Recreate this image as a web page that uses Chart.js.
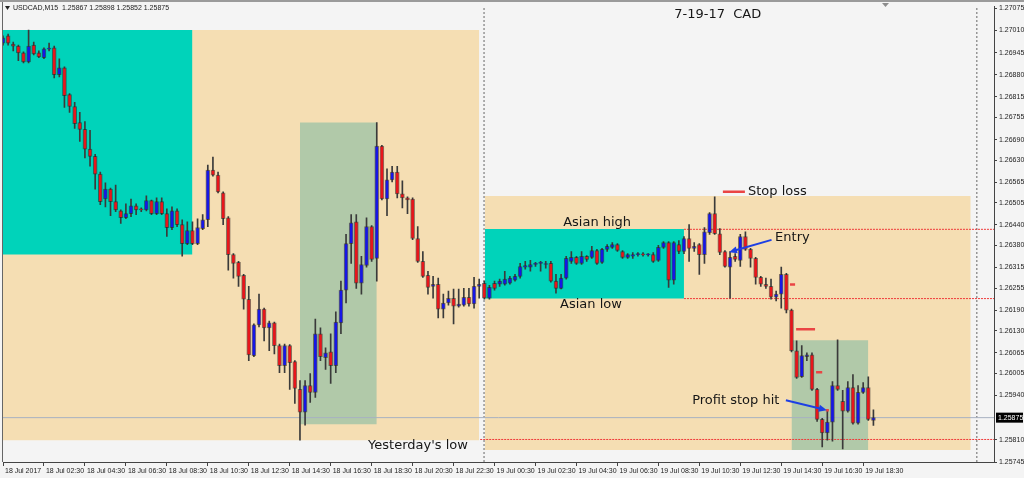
<!DOCTYPE html>
<html>
<head>
<meta charset="utf-8">
<script src="https://cdn.jsdelivr.net/npm/chart.js@4.4.1/dist/chart.umd.min.js"></script>
<style>
html,body{margin:0;padding:0;background:#f4f4f4;}
</style>
</head>
<body>
<canvas id="c" width="1024" height="478"></canvas>
<script>

// USDCAD M15, bar 0 = 18 Jul 00:30
const candleOpen = [
1.26973,1.26994,1.26970,1.26964,1.26944,1.26918,1.26967,1.26944,1.26930,1.26955,
1.26959,1.26880,1.26900,1.26822,1.26787,1.26740,1.26720,1.26662,1.26641,1.26589,
1.26516,1.26545,1.26508,1.26481,1.26461,1.26473,1.26496,1.26485,1.26484,1.26511,
1.26473,1.26508,1.26473,1.26432,1.26481,1.26441,1.26385,1.26423,1.26385,1.26429,
1.26455,1.26601,1.26586,1.26534,1.26461,1.26353,1.26330,1.26292,1.26222,1.26057,
1.26147,1.26193,1.26138,1.26153,1.26086,1.26027,1.26086,1.26039,1.25958,1.25891,
1.25969,1.25949,1.26121,1.26051,1.26068,1.26027,1.26153,1.26249,1.26385,1.26449,
1.26269,1.26321,1.26435,1.26342,1.26671,1.26516,1.26572,1.26595,1.26531,1.26519,
1.26516,1.26400,1.26333,1.26292,1.26260,1.26266,1.26193,1.26211,1.26225,1.26202,
1.26205,1.26228,1.26208,1.26260,1.26269,1.26225,1.26269,1.26266,1.26266,1.26269,
1.26278,1.26289,1.26316,1.26316,1.26324,1.26327,1.26324,1.26327,1.26275,1.26254,
1.26284,1.26333,1.26345,1.26327,1.26348,1.26345,1.26365,1.26330,1.26368,1.26374,
1.26382,1.26362,1.26345,1.26348,1.26353,1.26353,1.26352,1.26353,1.26336,1.26374,
1.26388,1.26278,1.26382,1.26362,1.26400,1.26371,1.26382,1.26353,1.26417,1.26473,
1.26414,1.26362,1.26316,1.26348,1.26336,1.26406,1.26368,1.26342,1.26286,1.26266,
1.26260,1.26228,1.26237,1.26295,1.26190,1.26071,1.25995,1.26054,1.26059,1.25958,
1.25870,1.25830,1.25862,1.25969,1.25923,1.25894,1.25963,1.25859,1.25949,1.25963,
1.25867];

const candleHigh = [
1.26994,1.26999,1.26976,1.26967,1.26947,1.27011,1.26976,1.26950,1.26959,1.26973,
1.26964,1.26927,1.26903,1.26825,1.26799,1.26770,1.26743,1.26717,1.26647,1.26595,
1.26563,1.26548,1.26557,1.26484,1.26502,1.26516,1.26502,1.26490,1.26525,1.26513,
1.26519,1.26519,1.26487,1.26493,1.26487,1.26455,1.26449,1.26449,1.26458,1.26470,
1.26615,1.26639,1.26595,1.26537,1.26464,1.26356,1.26333,1.26295,1.26260,1.26150,
1.26237,1.26196,1.26158,1.26155,1.26091,1.26091,1.26089,1.26042,1.25984,1.25984,
1.26004,1.26164,1.26138,1.26080,1.26121,1.26185,1.26275,1.26412,1.26470,1.26470,
1.26348,1.26461,1.26438,1.26740,1.26673,1.26604,1.26612,1.26612,1.26569,1.26522,
1.26519,1.26435,1.26362,1.26304,1.26289,1.26284,1.26237,1.26246,1.26252,1.26252,
1.26254,1.26254,1.26286,1.26281,1.26275,1.26263,1.26275,1.26281,1.26304,1.26289,
1.26295,1.26327,1.26333,1.26336,1.26330,1.26333,1.26333,1.26333,1.26295,1.26295,
1.26348,1.26362,1.26348,1.26362,1.26350,1.26377,1.26368,1.26371,1.26382,1.26388,
1.26385,1.26365,1.26356,1.26359,1.26359,1.26359,1.26356,1.26359,1.26380,1.26391,
1.26391,1.26391,1.26394,1.26406,1.26441,1.26388,1.26385,1.26432,1.26476,1.26522,
1.26429,1.26365,1.26362,1.26356,1.26412,1.26420,1.26371,1.26345,1.26289,1.26284,
1.26281,1.26246,1.26316,1.26298,1.26193,1.26100,1.26086,1.26065,1.26065,1.25961,
1.25873,1.25897,1.25981,1.26103,1.25955,1.25981,1.26001,1.25969,1.25978,1.25995,
1.25898];

const candleLow = [
1.26967,1.26967,1.26950,1.26921,1.26915,1.26915,1.26938,1.26930,1.26927,1.26950,
1.26871,1.26874,1.26784,1.26770,1.26723,1.26685,1.26636,1.26612,1.26545,1.26499,
1.26493,1.26467,1.26479,1.26444,1.26458,1.26464,1.26470,1.26479,1.26481,1.26470,
1.26470,1.26470,1.26406,1.26426,1.26435,1.26348,1.26382,1.26382,1.26382,1.26426,
1.26435,1.26583,1.26534,1.26441,1.26307,1.26284,1.26260,1.26193,1.26042,1.26054,
1.26141,1.26100,1.26071,1.26062,1.26007,1.26007,1.25958,1.25917,1.25809,1.25853,
1.25920,1.25934,1.26042,1.26016,1.25975,1.26007,1.26121,1.26211,1.26327,1.26254,
1.26237,1.26316,1.26333,1.26275,1.26513,1.26467,1.26566,1.26519,1.26490,1.26473,
1.26397,1.26330,1.26286,1.26237,1.26225,1.26167,1.26167,1.26205,1.26150,1.26199,
1.26202,1.26202,1.26196,1.26225,1.26222,1.26222,1.26249,1.26260,1.26263,1.26266,
1.26275,1.26284,1.26310,1.26304,1.26318,1.26304,1.26313,1.26272,1.26240,1.26252,
1.26281,1.26327,1.26324,1.26324,1.26333,1.26342,1.26324,1.26327,1.26362,1.26371,
1.26362,1.26342,1.26342,1.26342,1.26348,1.26348,1.26348,1.26330,1.26333,1.26371,
1.26257,1.26266,1.26356,1.26356,1.26333,1.26362,1.26295,1.26327,1.26412,1.26412,
1.26353,1.26316,1.26225,1.26333,1.26318,1.26365,1.26316,1.26266,1.26260,1.26254,
1.26222,1.26217,1.26196,1.26182,1.26068,1.25990,1.25993,1.26042,1.25955,1.25864,
1.25789,1.25809,1.25806,1.25955,1.25783,1.25891,1.25856,1.25856,1.25946,1.25867,
1.25852];

const candleClose = [
1.26988,1.26973,1.26964,1.26944,1.26918,1.26964,1.26941,1.26932,1.26956,1.26957,
1.26880,1.26900,1.26819,1.26787,1.26737,1.26720,1.26662,1.26641,1.26589,1.26508,
1.26545,1.26508,1.26484,1.26461,1.26473,1.26496,1.26484,1.26484,1.26511,1.26473,
1.26508,1.26473,1.26432,1.26481,1.26441,1.26385,1.26423,1.26385,1.26432,1.26455,
1.26601,1.26586,1.26537,1.26458,1.26353,1.26327,1.26289,1.26222,1.26059,1.26147,
1.26193,1.26138,1.26153,1.26086,1.26027,1.26086,1.26036,1.25961,1.25891,1.25969,
1.25949,1.26121,1.26054,1.26065,1.26027,1.26155,1.26249,1.26385,1.26446,1.26269,
1.26324,1.26435,1.26339,1.26671,1.26516,1.26572,1.26595,1.26531,1.26519,1.26513,
1.26400,1.26333,1.26289,1.26257,1.26266,1.26193,1.26211,1.26225,1.26202,1.26208,
1.26228,1.26208,1.26260,1.26266,1.26225,1.26257,1.26254,1.26275,1.26281,1.26284,
1.26289,1.26318,1.26321,1.26324,1.26327,1.26328,1.26325,1.26275,1.26254,1.26284,
1.26342,1.26345,1.26327,1.26348,1.26339,1.26365,1.26327,1.26368,1.26377,1.26382,
1.26365,1.26345,1.26353,1.26353,1.26354,1.26352,1.26353,1.26333,1.26374,1.26388,
1.26278,1.26388,1.26362,1.26400,1.26371,1.26377,1.26353,1.26420,1.26473,1.26414,
1.26359,1.26318,1.26345,1.26339,1.26406,1.26368,1.26342,1.26286,1.26266,1.26260,
1.26228,1.26237,1.26295,1.26190,1.26071,1.25993,1.26057,1.26059,1.25958,1.25870,
1.25830,1.25862,1.25969,1.25958,1.25894,1.25963,1.25859,1.25949,1.25963,1.25870,
1.25875];

const timeTicks = [0,8,16,24,32,40,48,56,64,72,80,88,96,104,112,120,128,136,144,152,160,168];
const timeLabels = ["18 Jul 2017","18 Jul 02:30","18 Jul 04:30","18 Jul 06:30","18 Jul 08:30","18 Jul 10:30",
"18 Jul 12:30","18 Jul 14:30","18 Jul 16:30","18 Jul 18:30","18 Jul 20:30","18 Jul 22:30",
"19 Jul 00:30","19 Jul 02:30","19 Jul 04:30","19 Jul 06:30","19 Jul 08:30","19 Jul 10:30",
"19 Jul 12:30","19 Jul 14:30","19 Jul 16:30","19 Jul 18:30"];

const priceTicks = [1.27075,1.27010,1.26945,1.26880,1.26815,1.26755,1.26690,1.26630,1.26565,1.26505,1.26440,
1.26380,1.26315,1.26255,1.26190,1.26130,1.26065,1.26005,1.25940,1.25810,1.25745];

const lastPrice = 1.25875;
const daySplits = [93.95, 190.2];

// boxes: [fromBar, toBar, top, bottom]
const sessionBoxes = [[-2,93.0,1.27011,1.25809],[94.1,189.0,1.26525,1.25780]];
const asiaBoxes = [[-2,37.0,1.27011,1.26353],[94.1,133.0,1.26428,1.26224]];
const moveBoxes = [[58.0,73.0,1.26740,1.25856],[154.0,169.0,1.26102,1.25780]];

// red dotted levels: [fromBar, price]
const levels = [[133.0,1.26427],[133.0,1.26224],[93.2,1.25811]];
// short red stop marks: [fromBar, toBar, price]
const stopMarks = [[140.6,144.9,1.26537],[153.7,154.7,1.26265],[154.9,158.6,1.26134],[158.8,160.0,1.26008],[160.7,161.3,1.25897]];
// arrows: [fromBar, fromPrice, toBar, toPrice]
const arrows = [[150.1,1.26396,141.8,1.26360],[152.9,1.25926,160.9,1.25897]];

const notes = [
  {text:"7-19-17  CAD", x:139.6, y:1.27057, align:"center"},
  {text:"Stop loss", x:145.5, y:1.26537, align:"left"},
  {text:"Asian high", x:109.4, y:1.26446, align:"left"},
  {text:"Entry", x:150.8, y:1.26403, align:"left"},
  {text:"Asian low", x:108.8, y:1.26205, align:"left"},
  {text:"Profit stop hit", x:134.6, y:1.25926, align:"left"},
  {text:"Yesterday's low", x:71.3, y:1.25792, align:"left"}
];

const RED = "#e8151b";
const BLUE = "#1616e6";
const Y_MIN = 1.25745, Y_MAX = 1.27081, X_MAX = 193.55;

const bars = candleOpen.map((_, i) => i);

function box(r, color, order){
  return {type:"line", data:[{x:r[0],y:r[2]},{x:r[1],y:r[2]}], fill:{value:r[3]},
    backgroundColor:color, borderColor:"rgba(0,0,0,0)", borderWidth:0, pointRadius:0, order:order};
}
function hline(x0, x1, p, color, width, dash, order){
  return {type:"line", data:[{x:x0,y:p},{x:x1,y:p}], borderColor:color, borderWidth:width,
    borderDash:dash, pointRadius:0, fill:false, order:order};
}

const datasets = [];
sessionBoxes.forEach(r => datasets.push(box(r, "#f5deb3", 30)));
asiaBoxes.forEach(r => datasets.push(box(r, "#00d3ba", 29)));
moveBoxes.forEach(r => datasets.push(box(r, "#b1c9a9", 29)));
daySplits.forEach(d => datasets.push({type:"line", data:[{x:d,y:Y_MIN},{x:d,y:Y_MAX}],
  borderColor:"#666", borderWidth:1, borderDash:[2,2], pointRadius:0, fill:false, order:28}));
datasets.push(hline(-2, 200, lastPrice, "#a7b1c1", 1, [], 27));
levels.forEach(l => datasets.push(hline(l[0], 200, l[1], "#ef3a3a", 1, [2,1], 26)));

datasets.push({type:"bar", data:bars.map(i => ({x:i, y:[candleLow[i], candleHigh[i]]})),
  backgroundColor:"#3a3a3a", barThickness:1, grouped:false, order:6});
datasets.push({type:"bar", data:bars.map(i => ({x:i, y:[candleOpen[i], candleClose[i]]})),
  backgroundColor:bars.map(i => candleClose[i] >= candleOpen[i] ? BLUE : RED),
  borderColor:"rgba(40,30,30,0.55)", borderWidth:1, borderSkipped:false,
  barThickness:4, minBarLength:1, grouped:false, order:5});

stopMarks.forEach(m => datasets.push(hline(m[0], m[1], m[2], "#ea4444", 2.5, [], 4)));

const overlay = {
  id:"overlay",
  beforeDraw(chart){
    const ctx = chart.ctx;
    ctx.save();
    ctx.fillStyle = "#f4f4f4";
    ctx.fillRect(0, 0, chart.width, chart.height);
    ctx.restore();
  },
  afterDatasetsDraw(chart){
    const {ctx, scales:{x, y}} = chart;
    ctx.save();
    ctx.strokeStyle = "#1d3fe4";
    ctx.fillStyle = "#1d3fe4";
    ctx.lineWidth = 2;
    arrows.forEach(r => {
      const x0 = x.getPixelForValue(r[0]), y0 = y.getPixelForValue(r[1]);
      const x1 = x.getPixelForValue(r[2]), y1 = y.getPixelForValue(r[3]);
      const a = Math.atan2(y1 - y0, x1 - x0), c = Math.cos(a), s = Math.sin(a);
      ctx.beginPath();
      ctx.moveTo(x0, y0);
      ctx.lineTo(x1 - 5*c, y1 - 5*s);
      ctx.stroke();
      ctx.beginPath();
      ctx.moveTo(x1, y1);
      ctx.lineTo(x1 - 8*c + 3.5*s, y1 - 8*s - 3.5*c);
      ctx.lineTo(x1 - 8*c - 3.5*s, y1 - 8*s + 3.5*c);
      ctx.closePath();
      ctx.fill();
    });
    ctx.font = '13px "DejaVu Sans"';
    ctx.fillStyle = "#161616";
    ctx.textBaseline = "middle";
    notes.forEach(n => {
      ctx.textAlign = n.align;
      ctx.fillText(n.text, x.getPixelForValue(n.x), y.getPixelForValue(n.y));
    });
    ctx.restore();
  },
  afterDraw(chart){
    const {ctx, chartArea:a, scales:{y}} = chart;
    ctx.save();
    ctx.fillStyle = "#9a9a9a";
    ctx.fillRect(0, 0, chart.width, 2);
    ctx.strokeStyle = "#666";
    ctx.lineWidth = 1;
    ctx.beginPath();
    ctx.moveTo(a.left - 0.5, 2);
    ctx.lineTo(a.left - 0.5, a.bottom);
    ctx.stroke();
    // header
    ctx.fillStyle = "#222";
    ctx.beginPath();
    ctx.moveTo(5, 6); ctx.lineTo(10, 6); ctx.lineTo(7.5, 10); ctx.closePath(); ctx.fill();
    ctx.font = '7px "Liberation Sans"';
    ctx.textBaseline = "middle";
    ctx.textAlign = "left";
    ctx.fillText("USDCAD,M15  1.25867 1.25898 1.25852 1.25875", 13, 8);
    // chart shift marker
    ctx.fillStyle = "#8c8c8c";
    ctx.beginPath();
    ctx.moveTo(882, 3); ctx.lineTo(889, 3); ctx.lineTo(885.5, 7); ctx.closePath(); ctx.fill();
    // price box
    const py = y.getPixelForValue(lastPrice);
    ctx.fillStyle = "#000";
    ctx.fillRect(a.right + 2, py - 5, 27, 10);
    ctx.fillStyle = "#fff";
    ctx.fillText(lastPrice.toFixed(5), a.right + 4, py);
    ctx.restore();
  }
};

new Chart(document.getElementById("c"), {
  type:"bar",
  data:{datasets:datasets},
  plugins:[overlay],
  options:{
    responsive:false,
    animation:false,
    layout:{padding:{left:3, top:3, right:0, bottom:0}},
    plugins:{legend:{display:false}, tooltip:{enabled:false}},
    scales:{
      x:{
        type:"linear", min:0, max:X_MAX, offset:false,
        grid:{drawOnChartArea:false, offset:false, tickLength:4, color:"#444"},
        border:{color:"#444"},
        afterBuildTicks:s => { s.ticks = timeTicks.map(v => ({value:v})); },
        afterFit:s => { s.height = 16; },
        ticks:{autoSkip:false, maxRotation:0, align:"start", labelOffset:2, padding:1,
          font:{family:"Liberation Sans", size:7}, color:"#222",
          callback:(v, i) => timeLabels[i]}
      },
      y:{
        type:"linear", position:"right", min:Y_MIN, max:Y_MAX,
        grid:{drawOnChartArea:false, tickLength:3, color:"#444"},
        border:{color:"#444"},
        afterBuildTicks:s => { s.ticks = priceTicks.map(v => ({value:v})); },
        afterFit:s => { s.width = 30; },
        ticks:{padding:2, font:{family:"Liberation Sans", size:7}, color:"#222",
          callback:v => v.toFixed(5)}
      }
    }
  }
});
</script>
</body>
</html>
